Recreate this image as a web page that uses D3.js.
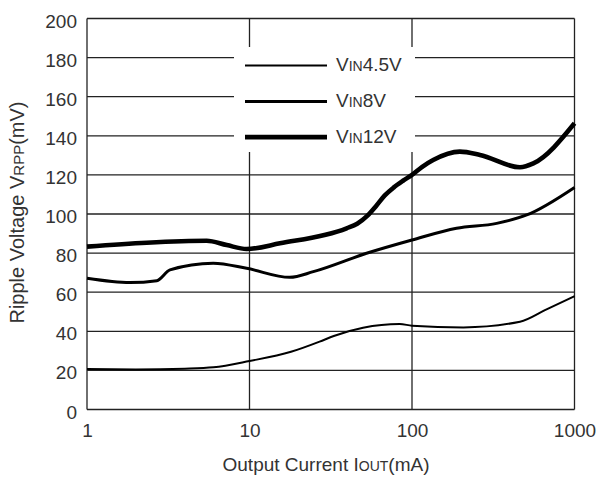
<!DOCTYPE html>
<html><head><meta charset="utf-8">
<script src="https://cdn.jsdelivr.net/npm/d3@7"></script>
<style>
body{margin:0;background:#fff;}
svg{display:block;font-family:"Liberation Sans",Arial,sans-serif;}
</style></head>
<body><svg id="c" width="598" height="480"></svg>
<script>
// Data
const xTicks = [1, 10, 100, 1000];
const yTicks = [0, 20, 40, 60, 80, 100, 120, 140, 160, 180, 200];
const seriesNames = ["4.5V", "8V", "12V"];
const vin45 = [[1,20.7],[2,20.5],[4,20.9],[6,21.6],[10,24.8],[18,29.5],[27,34.7],[33,37.6],[50,41.8],[84,43.7],[100,42.9],[207,42],[462,44.9],[673,51.2],[1000,58]];
const vin8 = [[1,67.1],[1.84,64.9],[2.69,65.9],[3.24,71.4],[5.98,74.8],[9.6,72.2],[17.7,67.6],[24.7,70.5],[52.5,79.9],[100,86.7],[188,92.7],[332,95.2],[508,99.5],[1000,113.6]];
const vin12 = [[1,83.3],[2.33,85.3],[5.45,86.3],[7.24,84.1],[9.6,82.1],[15.4,85],[39.6,92.7],[46,95],[53,99],[60,104],[68,109.5],[77,113.5],[88,117],[100,120],[115,124],[135,127.6],[197,131.9],[262,130.2],[462,123.9],[558,125.9],[1000,146.4]];
const seriesData = [vin45, vin8, vin12];
const widths = [2, 3, 4.6];

const svg = d3.select("#c");
const x = d3.scaleLog().domain([1, 1000]).range([87, 574.5]);
const y = d3.scaleLinear().domain([0, 200]).range([409.5, 18.5]);
const ink = "#222";
const txt = "#333";
const fs = 19;
const fsSmall = 14;

// grid
const g = svg.append("g");
g.selectAll("line.h").data(yTicks).join("line")
  .attr("x1", x(1)).attr("x2", x(1000))
  .attr("y1", d => y(d)).attr("y2", d => y(d))
  .attr("stroke", ink).attr("stroke-width", 1.3);
g.selectAll("line.v").data(xTicks).join("line")
  .attr("y1", y(0)).attr("y2", y(200))
  .attr("x1", d => x(d)).attr("x2", d => x(d))
  .attr("stroke", ink).attr("stroke-width", 1.3);

// legend background
svg.append("rect").attr("x", 234).attr("y", 47).attr("width", 181).attr("height", 105).attr("fill", "#fff");

// axes labels
const ax = svg.append("g").attr("transform", `translate(${x(1)},0)`)
  .call(d3.axisLeft(y).tickValues(yTicks).tickSize(0).tickPadding(10));
ax.select(".domain").remove();
ax.selectAll("text").attr("font-size", fs).attr("fill", txt).attr("dy", "0.45em")
  .attr("font-family", "Liberation Sans, Arial, sans-serif");

const bx = svg.append("g").attr("transform", `translate(0,${y(0)})`)
  .call(d3.axisBottom(x).tickValues(xTicks).tickFormat(d3.format("d")).tickSize(0).tickPadding(14));
bx.select(".domain").remove();
bx.selectAll("text").attr("font-size", fs).attr("fill", txt)
  .attr("font-family", "Liberation Sans, Arial, sans-serif");

// series
const line = d3.line().x(d => x(d[0])).y(d => y(d[1])).curve(d3.curveMonotoneX);
seriesData.forEach((s, i) => {
  svg.append("path").datum(s).attr("d", line).attr("fill", "none")
    .attr("stroke", "#000").attr("stroke-width", widths[i]).attr("stroke-linejoin", "round");
});

// legend
const legY = [176, 157.6, 139.3];
seriesNames.forEach((n, i) => {
  const ly = y(legY[i]);
  svg.append("line").attr("x1", 245).attr("x2", 327).attr("y1", ly).attr("y2", ly)
    .attr("stroke", "#000").attr("stroke-width", widths[i]);
  const t = svg.append("text").attr("x", 336).attr("y", ly + 6).attr("font-size", fs).attr("fill", txt);
  t.append("tspan").text("V");
  t.append("tspan").attr("font-size", fsSmall).text("IN");
  t.append("tspan").text(n);
});

// x title
const xt = svg.append("text").attr("x", 326).attr("y", 471).attr("text-anchor", "middle").attr("font-size", fs).attr("fill", txt);
xt.append("tspan").text("Output Current I");
xt.append("tspan").attr("font-size", fsSmall).text("OUT");
xt.append("tspan").text("(mA)");

// y title
const yt = svg.append("text").attr("transform", "translate(24,212.5) rotate(-90)").attr("text-anchor", "middle").attr("font-size", 20).attr("fill", txt);
yt.append("tspan").text("Ripple Voltage V");
yt.append("tspan").attr("font-size", 15).text("RPP");
yt.append("tspan").text("(mV)");
</script></body></html>
